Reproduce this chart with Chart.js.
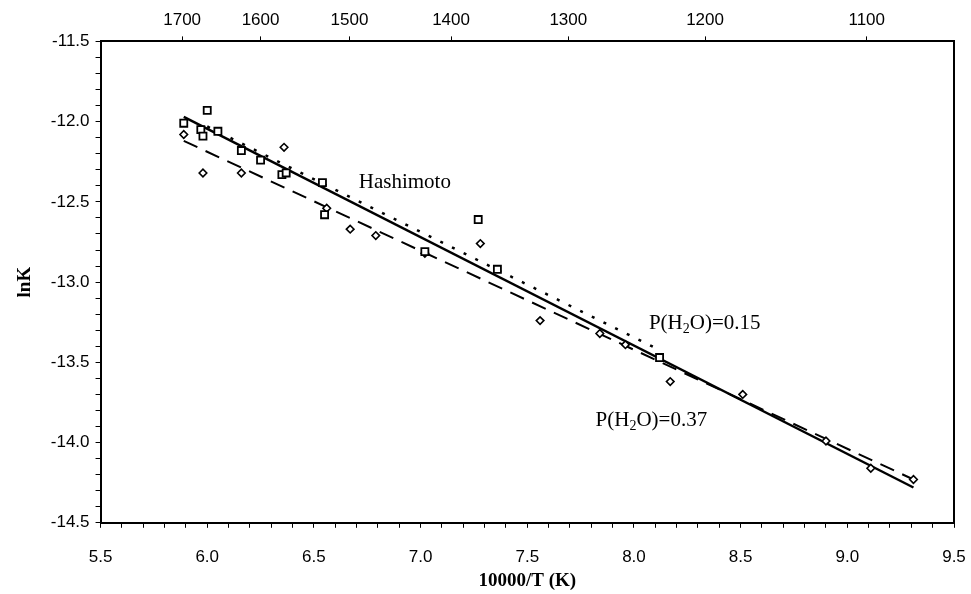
<!DOCTYPE html>
<html lang="en">

<head>
    <meta charset="UTF-8">
    <title>lnK vs 10000/T</title>
    <script src="https://cdn.jsdelivr.net/npm/chart.js"></script>
    <style>
        html, body { margin: 0; padding: 0; background: #fff; }
        .grafico { width: 971px; height: 594px; }
    </style>
</head>

<body>
    <div class="grafico">
        <canvas id="myCanvas"></canvas>
    </div>

<script>
    // measured points (10000/T, lnK)
    const squareX = [5.89, 5.97, 5.98, 6.00, 6.05, 6.16, 6.25, 6.35, 6.37, 6.54, 6.55, 7.02, 7.27, 7.36, 8.12];
    const squareY = [-12.01, -12.05, -12.09, -11.93, -12.06, -12.18, -12.24, -12.33, -12.32, -12.38, -12.58, -12.81, -12.61, -12.92, -13.47];

    const diamondX = [5.89, 5.98, 6.16, 6.36, 6.56, 6.67, 6.79, 7.02, 7.28, 7.56, 7.84, 7.96, 8.17, 8.51, 8.90, 9.11, 9.31];
    const diamondY = [-12.08, -12.32, -12.32, -12.16, -12.54, -12.67, -12.71, -12.82, -12.76, -13.24, -13.32, -13.39, -13.62, -13.70, -13.99, -14.16, -14.23];

    // fitted lines, end points
    const solidX = [5.89, 9.31];
    const solidY = [-11.97, -14.28];
    const dashX = [5.89, 9.31];
    const dashY = [-12.12, -14.23];
    const dotX = [6.00, 8.10];
    const dotY = [-12.03, -13.41];

    // top axis temperatures (K)
    const tempTicks = [1700, 1600, 1500, 1400, 1300, 1200, 1100];

    function pares(xs, ys) {
        let out = [];
        for (let i = 0; i < xs.length; i++) {
            out.push({ x: xs[i], y: ys[i] });
        }
        return out;
    }

    const fonteTick = "'Liberation Sans', Arial, sans-serif";
    const fonteSerif = "'Liberation Serif', 'Times New Roman', serif";

    // text labels drawn at data positions
    const rotulos = [
        { x: 6.71, y: -12.38, partes: [["Hashimoto", false]] },
        { x: 8.07, y: -13.26, partes: [["P(H", false], ["2", true], ["O)=0.15", false]] },
        { x: 7.82, y: -13.86, partes: [["P(H", false], ["2", true], ["O)=0.37", false]] }
    ];

    const pluginRotulos = {
        id: "rotulos",
        afterDatasetsDraw(chart) {
            const ctx = chart.ctx;
            const sx = chart.scales.x;
            const sy = chart.scales.y;
            ctx.save();
            ctx.fillStyle = "#000";
            ctx.textBaseline = "middle";
            ctx.textAlign = "left";
            rotulos.forEach(function (r) {
                let px = sx.getPixelForValue(r.x);
                const py = sy.getPixelForValue(r.y);
                r.partes.forEach(function (p) {
                    if (p[1]) {
                        ctx.font = "14px " + fonteSerif;
                        ctx.fillText(p[0], px, py + 6);
                    } else {
                        ctx.font = "21px " + fonteSerif;
                        ctx.fillText(p[0], px, py);
                    }
                    px += ctx.measureText(p[0]).width;
                });
            });
            ctx.restore();
        }
    };

    // keep the last x label from squeezing the plot on the right
    function semPaddingDireita(scale) {
        scale.paddingRight = 0;
    }

    const dados = {
        datasets: [
            {
                label: "solid",
                data: pares(solidX, solidY),
                showLine: true,
                borderColor: "#000",
                borderWidth: 2.5,
                pointRadius: 0,
                order: 3
            },
            {
                label: "dashed",
                data: pares(dashX, dashY),
                showLine: true,
                borderColor: "#000",
                borderWidth: 2,
                borderDash: [15, 9],
                pointRadius: 0,
                order: 3
            },
            {
                label: "Hashimoto",
                data: pares(dotX, dotY),
                showLine: true,
                borderColor: "#000",
                borderWidth: 2.5,
                borderDash: [3, 10],
                pointRadius: 0,
                order: 3
            },
            {
                label: "P(H2O)=0.15",
                data: pares(squareX, squareY),
                pointStyle: "rect",
                pointRadius: 5,
                pointBackgroundColor: "#fff",
                pointBorderColor: "#000",
                pointBorderWidth: 1.8,
                order: 1
            },
            {
                label: "P(H2O)=0.37",
                data: pares(diamondX, diamondY),
                pointStyle: "rectRot",
                pointRadius: 3.8,
                pointBackgroundColor: "#fff",
                pointBorderColor: "#000",
                pointBorderWidth: 1.6,
                order: 2
            }
        ]
    };

    const config = {
        type: "scatter",
        data: dados,
        options: {
            responsive: true,
            maintainAspectRatio: false,
            animation: false,
            layout: {
                padding: { left: 14, right: 17, top: 4, bottom: 0 }
            },
            scales: {
                x: {
                    type: "linear",
                    position: "bottom",
                    min: 5.5,
                    max: 9.5,
                    afterFit: semPaddingDireita,
                    border: { display: true, color: "#000", width: 2 },
                    grid: { drawOnChartArea: false, drawTicks: true, tickLength: 5, color: "#000" },
                    ticks: {
                        stepSize: 0.1,
                        autoSkip: false,
                        maxRotation: 0,
                        color: "#000",
                        padding: 19,
                        font: { family: fonteTick, size: 17 },
                        callback: function (v) {
                            return Math.round(v * 10) % 5 === 0 ? v.toFixed(1) : "";
                        }
                    },
                    title: {
                        display: true,
                        text: "10000/T (K)",
                        color: "#000",
                        font: { family: fonteSerif, size: 19, weight: "bold" },
                        padding: { top: -17, bottom: 2 }
                    }
                },
                x2: {
                    type: "linear",
                    position: "top",
                    min: 5.5,
                    max: 9.5,
                    afterFit: semPaddingDireita,
                    border: { display: true, color: "#000", width: 2 },
                    grid: { drawOnChartArea: false, drawTicks: true, tickLength: 5, color: "#000" },
                    afterBuildTicks: function (axis) {
                        axis.ticks = tempTicks.map(function (t) { return { value: 10000 / t }; });
                    },
                    ticks: {
                        autoSkip: false,
                        maxRotation: 0,
                        color: "#000",
                        padding: 6,
                        font: { family: fonteTick, size: 17 },
                        callback: function (v) {
                            return String(Math.round(10000 / v));
                        }
                    }
                },
                y: {
                    type: "linear",
                    position: "left",
                    min: -14.5,
                    max: -11.5,
                    border: { display: true, color: "#000", width: 2 },
                    grid: { drawOnChartArea: false, drawTicks: true, tickLength: 5, color: "#000" },
                    ticks: {
                        stepSize: 0.1,
                        autoSkip: false,
                        color: "#000",
                        padding: 6,
                        font: { family: fonteTick, size: 17 },
                        callback: function (v) {
                            return Math.round(v * 10) % 5 === 0 ? v.toFixed(1) : "";
                        }
                    },
                    title: {
                        display: true,
                        text: "lnK",
                        color: "#000",
                        font: { family: fonteSerif, size: 19, weight: "bold" },
                        padding: { top: 0, bottom: 8 }
                    }
                },
                y2: {
                    type: "linear",
                    position: "right",
                    min: -14.5,
                    max: -11.5,
                    border: { display: true, color: "#000", width: 2 },
                    grid: { display: false },
                    ticks: { display: false },
                    afterFit: function (scale) {
                        scale.width = 0;
                    }
                }
            },
            plugins: {
                legend: { display: false },
                tooltip: { enabled: false }
            }
        },
        plugins: [pluginRotulos]
    };

    const myChart = new Chart(document.getElementById("myCanvas"), config);
</script>

</body>

</html>
